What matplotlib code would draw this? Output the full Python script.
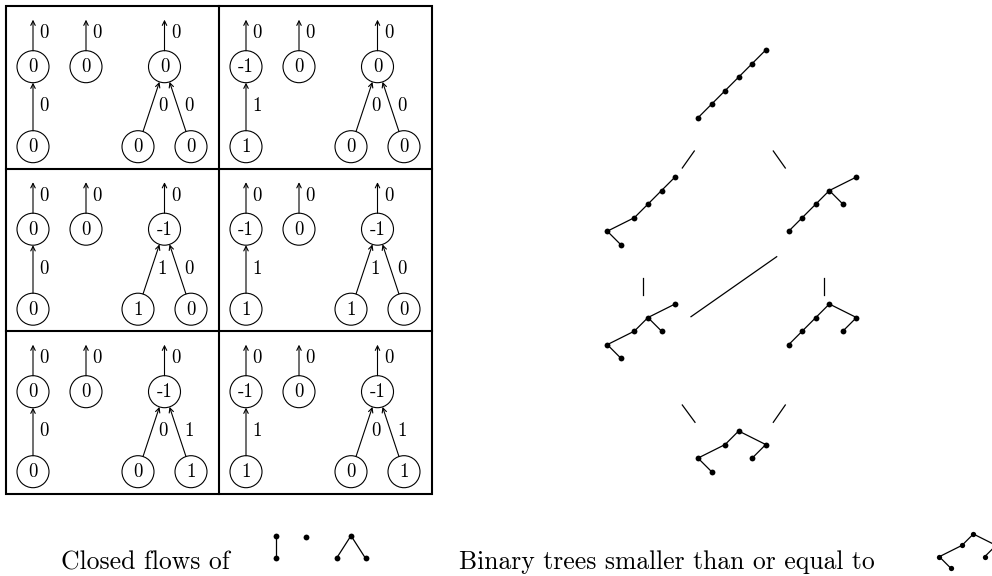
import matplotlib
matplotlib.use("Agg")
import matplotlib.pyplot as plt
from matplotlib.patches import Circle, FancyArrowPatch, Rectangle

# ---------------- data ----------------
# values shown in the six cells (row-major: row0col0, row0col1, row1col0, ...)
stick_top = ["0", "-1", "0", "-1", "0", "-1"]
stick_bottom = ["0", "1", "0", "1", "0", "1"]
stick_edge = ["0", "1", "0", "1", "0", "1"]
dot_value = ["0", "0", "0", "0", "0", "0"]
lam_root = ["0", "0", "-1", "-1", "-1", "-1"]
lam_left = ["0", "0", "1", "1", "0", "0"]
lam_right = ["0", "0", "0", "0", "1", "1"]
lam_left_edge = ["0", "0", "1", "1", "0", "0"]
lam_right_edge = ["0", "0", "0", "0", "1", "1"]
out_flow = ["0", "0", "0", "0", "0", "0"]

# binary trees (node = (left, right), empty = None)
tree_top = ((((((None, None), None), None), None), None), None)
tree_r2_left = (((((None, (None, None)), None), None), None), None)
tree_r2_right = (((((None, None), None), None), (None, None)), None)
tree_r3_left = ((((None, (None, None)), None), (None, None)), None)
tree_r3_right = ((((None, None), None), None), ((None, None), None))
tree_bottom = (((None, (None, None)), None), ((None, None), None))

caption_left = "Closed flows of"
caption_right = "Binary trees smaller than or equal to"

# ---------------- figure ----------------
W, H = 992, 576
fig = plt.figure(figsize=(W / 100, H / 100), dpi=100)
ax = fig.add_axes([0, 0, 1, 1])
ax.set_xlim(0, W)
ax.set_ylim(H, 0)
ax.axis("off")

FONT = "cmr10"
CELL_FS = 13.5
R = 16
LW = 0.8


def txt(x, y, s, fs=CELL_FS, **kw):
    ax.text(x, y, s, fontsize=fs, family=FONT, ha="center", va="center", **kw)


def node(x, y, s):
    ax.add_patch(Circle((x, y), R, fill=False, lw=LW, ec="black"))
    txt(x, y + 0.5, s)


def arrow(p, q):
    ax.add_patch(FancyArrowPatch(p, q, arrowstyle="->,head_length=0.32,head_width=0.16",
                                 mutation_scale=10, lw=LW, color="black",
                                 shrinkA=0, shrinkB=0))


def edge_between(child, parent, label):
    (cx, cy), (px, py) = child, parent
    dx, dy = px - cx, py - cy
    d = (dx ** 2 + dy ** 2) ** 0.5
    ux, uy = dx / d, dy / d
    a = (cx + ux * R, cy + uy * R)
    b = (px - ux * R, py - uy * R)
    arrow(a, b)
    txt((cx + px) / 2 + 11.3, (cy + py) / 2 - 0.5, label)


def out_arrow(x, y, label):
    arrow((x, y - R), (x, y - 47))
    txt(x + 11.3, y - 33.5, label)


# grid of cells
X0, Y0 = 6, 6
CW, CH = 213, 162.5
ax.add_patch(Rectangle((X0, Y0), 2 * CW, 3 * CH, fill=False, lw=1.5, ec="black"))
ax.plot([X0 + CW, X0 + CW], [Y0, Y0 + 3 * CH], color="black", lw=1.5)
for r in (1, 2):
    ax.plot([X0, X0 + 2 * CW], [Y0 + r * CH, Y0 + r * CH], color="black", lw=1.5)

for k in range(6):
    row, col = divmod(k, 2)
    cx = X0 + col * CW
    cy = Y0 + row * CH
    top_y, bot_y = cy + 60.7, cy + 140.7
    # stick
    sx = cx + 27
    node(sx, top_y, stick_top[k])
    node(sx, bot_y, stick_bottom[k])
    edge_between((sx, bot_y), (sx, top_y), stick_edge[k])
    out_arrow(sx, top_y, out_flow[k])
    # dot
    dx_ = cx + 80
    node(dx_, top_y, dot_value[k])
    out_arrow(dx_, top_y, out_flow[k])
    # lambda
    lx = cx + 158.5
    node(lx, top_y, lam_root[k])
    node(lx - 26.5, bot_y, lam_left[k])
    node(lx + 26.5, bot_y, lam_right[k])
    edge_between((lx - 26.5, bot_y), (lx, top_y), lam_left_edge[k])
    edge_between((lx + 26.5, bot_y), (lx, top_y), lam_right_edge[k])
    out_arrow(lx, top_y, out_flow[k])


# ---------------- binary trees ----------------
def layout(t):
    nodes, edges = [], []
    counter = [0]

    def rec(n, depth):
        if n is None:
            return None
        l = rec(n[0], depth + 1)
        me = (counter[0], depth)
        counter[0] += 1
        r = rec(n[1], depth + 1)
        for c in (l, r):
            if c is not None:
                edges.append((me, c))
        nodes.append(me)
        return me

    rec(t, 0)
    return nodes, edges


def draw_tree(t, ox, oy, step, ms=4.2, lw=0.9):
    nodes, edges = layout(t)
    for (a, b) in edges:
        ax.plot([ox + a[0] * step, ox + b[0] * step],
                [oy + a[1] * step, oy + b[1] * step], color="black", lw=lw,
                solid_capstyle="round")
    ax.plot([ox + n[0] * step for n in nodes], [oy + n[1] * step for n in nodes],
            "o", color="black", ms=ms, mew=0)


STEP = 13.55
draw_tree(tree_top, 698, 50, STEP)
draw_tree(tree_r2_left, 607.3, 177, STEP)
draw_tree(tree_r2_right, 788.7, 177, STEP)
draw_tree(tree_r3_left, 607.3, 304, STEP)
draw_tree(tree_r3_right, 788.7, 304, STEP)
draw_tree(tree_bottom, 698, 431, STEP)

# Hasse diagram connectors
hasse = [
    ((694.3, 151), (682.3, 168)),
    ((773.3, 151), (785.3, 168)),
    ((642.7, 278.3), (642.7, 295)),
    ((824.3, 278.3), (824.3, 295)),
    ((691, 316.7), (776.7, 256.7)),
    ((682.3, 405), (695, 422.3)),
    ((785.3, 405), (773.3, 422.3)),
]
for p, q in hasse:
    ax.plot([p[0], q[0]], [p[1], q[1]], color="black", lw=0.9)

# ---------------- captions ----------------
CAP_FS = 18.5
ax.text(61, 569, caption_left, fontsize=CAP_FS, family=FONT, ha="left", va="baseline")
ax.text(459, 569, caption_right, fontsize=CAP_FS, family=FONT, ha="left", va="baseline")

# closed-flow forest pictogram: stick, dot, lambda
fy_top, fy_bot = 535.7, 558.3
ax.plot([276, 276], [fy_top, fy_bot], color="black", lw=0.9)
ax.plot([276, 276], [fy_top, fy_bot], "o", color="black", ms=4.2, mew=0)
ax.plot([306], [fy_top + 1.5], "o", color="black", ms=4.2, mew=0)
ax.plot([336.5, 351, 365.5], [fy_bot, fy_top, fy_bot], color="black", lw=0.9)
ax.plot([336.5, 351, 365.5], [fy_bot, fy_top, fy_bot], "o", color="black", ms=4.2, mew=0)

draw_tree(tree_bottom, 939.3, 534, 11.35, ms=3.8)

fig.savefig("out.png", dpi=100)
